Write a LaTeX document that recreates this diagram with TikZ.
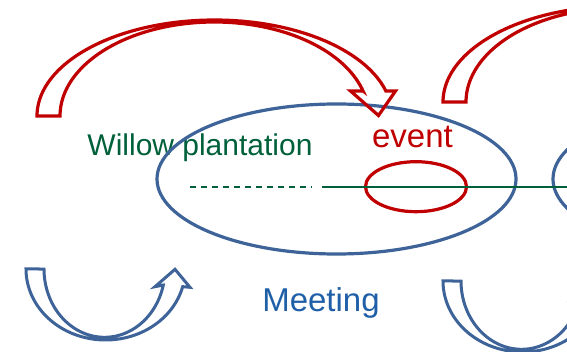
\documentclass[tikz,border=0pt]{standalone}
\usepackage{fontspec}
\setmainfont{Liberation Sans}
\usetikzlibrary{shapes.geometric}
\definecolor{redc}{HTML}{C00000}
\definecolor{bluel}{HTML}{3D6399}
\definecolor{bluet}{HTML}{1F5FA8}
\definecolor{greenc}{HTML}{00603A}
\tikzset{
  redarrow/.style={draw=redc,line width=3.2pt,line join=miter},
  bluearrow/.style={draw=bluel,line width=3pt,line join=miter},
  ellbox/.style={ellipse,draw,inner sep=0pt,line width=3.2pt},
  greenline/.style={draw=greenc,line width=2.2pt},
  lbl/.style={anchor=base,inner sep=0pt,font=\fontsize{33}{38}\selectfont},
  pics/redarr/.style={code={
    \draw[redarrow] plot[domain=180:344.9,samples=100] ({214.5+177.5*cos(\x)},{116+96*sin(\x)})
      -- (395.5,91) -- (378.5,115.5) -- (350.5,91) -- (363,91)
      -- plot[domain=344.6:180,samples=100] ({214.3+154.3*cos(\x)},{116+94*sin(\x)}) -- cycle;
  }},
  pics/bluearr/.style={code={
    \draw[bluearrow] plot[domain=180:14.4,samples=80] ({105.6+79.6*cos(\x)},{269+71*sin(\x)})
      -- (190,287.3) -- (175,269.3) -- (155,286.7) -- (163.3,285)
      -- plot[domain=13.55:180,samples=80] ({104.5+60.5*cos(\x)},{269+68.3*sin(\x)}) -- cycle;
  }}
}
\begin{document}
\begin{tikzpicture}[x=1pt,y=-1pt]
\useasboundingbox (0,0) rectangle (567,352);
\clip (0,0) rectangle (567,352);
% texts
\node[lbl,text=greenc,font=\fontsize{30}{35}\selectfont] (willow) at (200,156) {Willow plantation};
\node[lbl,text=redc] (event) at (412.5,148) {event};
\node[lbl,text=bluet] (meeting) at (321,312) {Meeting};
% ellipses
\node[ellbox,draw=bluel,minimum width=359pt,minimum height=150pt] (big) at (336.5,179) {};
\node[ellbox,draw=bluel,minimum width=359pt,minimum height=150pt] (right) at (732.5,179) {};
\node[ellbox,draw=redc,minimum width=101pt,minimum height=50pt] (small) at (416,186.7) {};
% timeline
\coordinate (d1) at (190,186.7);
\coordinate (d2) at (312,186.7);
\coordinate (s1) at (322,186.7);
\coordinate (s2) at (567,186.7);
\draw[greenline,dash pattern=on 6pt off 5pt] (d1) -- (d2);
\draw[greenline] (s1) -- (s2);
% arrows
\pic at (0,0) {redarr};
\pic at (406,-14) {redarr};
\pic at (0,0) {bluearr};
\pic at (417,12) {bluearr};
\end{tikzpicture}
\end{document}
